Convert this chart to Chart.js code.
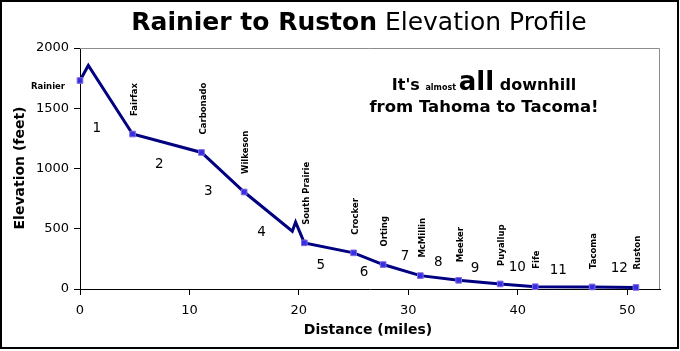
<!DOCTYPE html>
<html>
<head>
<meta charset="utf-8">
<script src="https://cdn.jsdelivr.net/npm/chart.js@4/dist/chart.umd.min.js"></script>
<style>
  html, body { margin: 0; padding: 0; background: #fff; }
  canvas { display: block; }
</style>
</head>
<body>
<canvas id="chart" width="680" height="351"></canvas>
<script>
// Elevation profile along the trail (distance in miles, elevation in feet)
const profileMiles = [0, 0.76, 4.8, 11.1, 15.0, 19.4, 19.7, 20.5, 25.0, 27.7, 31.1, 34.6, 38.4, 41.6, 46.8, 50.8];
const profileFeet  = [1730, 1855, 1286, 1133, 805, 480, 555, 383, 300, 203, 111, 72, 42, 19, 17, 13];

// Towns along the way
const towns     = ['Rainier', 'Fairfax', 'Carbonado', 'Wilkeson', 'South Prairie', 'Crocker', 'Orting', 'McMillin', 'Meeker', 'Puyallup', 'Fife', 'Tacoma', 'Ruston'];
const townMiles = [0, 4.8, 11.1, 15.0, 20.5, 25.0, 27.7, 31.1, 34.6, 38.4, 41.6, 46.8, 50.8];
const townFeet  = [1730, 1286, 1133, 805, 383, 300, 203, 111, 72, 42, 19, 17, 13];

// Segment numbers and where they sit (miles, feet)
const segments   = ['1', '2', '3', '4', '5', '6', '7', '8', '9', '10', '11', '12'];
const segMiles   = [1.53, 7.25, 11.72, 16.6, 22.0, 25.95, 29.7, 32.74, 36.1, 39.96, 43.7, 49.28];
const segFeet    = [1333, 1036, 805, 472, 197, 133, 267, 217, 169, 175, 153, 167];

const xTicks = [0, 10, 20, 30, 40, 50];
const yTicks = [0, 500, 1000, 1500, 2000];

const FONT = "'DejaVu Sans', Verdana, sans-serif";

// draws title, frame, labels and the note
const decorations = {
    id: 'decorations',
    afterDatasetsDraw(chart) {
        const ctx = chart.ctx;
        const xs = chart.scales.x, ys = chart.scales.y;
        const a = chart.chartArea;
        ctx.save();

        // plot area border (top/right grey)
        ctx.strokeStyle = '#8c8c8c';
        ctx.lineWidth = 1;
        ctx.beginPath();
        ctx.moveTo(a.left, a.top + 0.5);
        ctx.lineTo(a.right - 0.5, a.top + 0.5);
        ctx.lineTo(a.right - 0.5, a.bottom);
        ctx.stroke();

        // town labels
        ctx.fillStyle = '#000';
        ctx.font = 'bold 8.5px ' + FONT;
        towns.forEach((t, i) => {
            const px = xs.getPixelForValue(townMiles[i]);
            const py = ys.getPixelForValue(townFeet[i]);
            if (i === 0) {
                ctx.textAlign = 'right';
                ctx.textBaseline = 'middle';
                ctx.fillText(t, px - 15, py + 6);
                return;
            }
            ctx.save();
            ctx.translate(px + 2, py - 18);
            ctx.rotate(-Math.PI / 2);
            ctx.textAlign = 'left';
            ctx.textBaseline = 'middle';
            ctx.fillText(t, 0, 0);
            ctx.restore();
        });

        // segment numbers
        ctx.font = '13.5px ' + FONT;
        ctx.textAlign = 'center';
        ctx.textBaseline = 'middle';
        segments.forEach((s, i) => {
            ctx.fillText(s, xs.getPixelForValue(segMiles[i]), ys.getPixelForValue(segFeet[i]));
        });

        // title
        ctx.textBaseline = 'alphabetic';
        ctx.textAlign = 'left';
        const t1 = 'Rainier to Ruston', t2 = ' Elevation Profile';
        ctx.font = 'bold 25px ' + FONT;
        const w1 = ctx.measureText(t1).width;
        ctx.font = '25px ' + FONT;
        const w2 = ctx.measureText(t2).width;
        let tx = 359 - (w1 + w2) / 2;
        ctx.font = 'bold 25px ' + FONT;
        ctx.fillText(t1, tx, 30);
        ctx.font = '25px ' + FONT;
        ctx.fillText(t2, tx + w1, 30);

        // note
        const parts = [
            ['bold 16px ', "It's "],
            ['bold 8px ', 'almost '],
            ['bold 26px ', 'all'],
            ['bold 16px ', ' downhill']
        ];
        let total = 0;
        parts.forEach(p => { ctx.font = p[0] + FONT; total += ctx.measureText(p[1]).width; });
        let nx = 484 - total / 2;
        parts.forEach(p => {
            ctx.font = p[0] + FONT;
            ctx.fillText(p[1], nx, 90);
            nx += ctx.measureText(p[1]).width;
        });
        ctx.font = 'bold 16.5px ' + FONT;
        ctx.textAlign = 'center';
        ctx.fillText('from Tahoma to Tacoma!', 484, 112);

        // axis titles
        ctx.font = 'bold 14px ' + FONT;
        ctx.textBaseline = 'middle';
        ctx.fillText('Distance (miles)', 368, 330);
        ctx.save();
        ctx.translate(20, 168);
        ctx.rotate(-Math.PI / 2);
        ctx.fillText('Elevation (feet)', 0, 0);
        ctx.restore();

        // outer frame
        ctx.strokeStyle = '#000';
        ctx.lineWidth = 2;
        ctx.strokeRect(1, 1, 677, 347);
        ctx.restore();
    }
};

new Chart(document.getElementById('chart'), {
    type: 'scatter',
    data: {
        datasets: [{
            label: 'Profile',
            data: profileMiles.map((m, i) => ({ x: m, y: profileFeet[i] })),
            showLine: true,
            borderColor: '#000080',
            borderWidth: 3,
            pointRadius: 0,
            tension: 0,
            clip: false,
            order: 2
        }, {
            label: 'Towns',
            data: townMiles.map((m, i) => ({ x: m, y: townFeet[i] })),
            showLine: false,
            pointStyle: 'rect',
            pointRadius: 4,
            backgroundColor: '#3030e8',
            borderColor: '#8a6ad8',
            borderWidth: 1,
            clip: false,
            order: 1
        }]
    },
    options: {
        responsive: false,
        animation: false,
        layout: { padding: { top: 48, right: 20, bottom: 22, left: 0 } },
        plugins: {
            legend: { display: false },
            tooltip: { enabled: false },
            title: { display: false }
        },
        scales: {
            x: {
                type: 'linear',
                min: 0,
                max: 53,
                afterBuildTicks: s => { s.ticks = xTicks.map(v => ({ value: v })); },
                afterFit: s => { s.height = 40; },
                grid: { display: true, drawOnChartArea: false, drawTicks: true, tickLength: 6, color: '#000' },
                border: { display: true, color: '#000', width: 1 },
                ticks: { color: '#000', padding: 8, maxRotation: 0, callback: v => String(v), font: { family: FONT, size: 13 } }
            },
            y: {
                type: 'linear',
                min: 0,
                max: 2000,
                afterBuildTicks: s => { s.ticks = yTicks.map(v => ({ value: v })); },
                afterFit: s => { s.width = 80; },
                grid: { display: true, drawOnChartArea: false, drawTicks: true, tickLength: 6, color: '#000' },
                border: { display: true, color: '#000', width: 1 },
                ticks: { color: '#000', padding: 5, callback: v => String(v), font: { family: FONT, size: 13 } }
            }
        }
    },
    plugins: [decorations]
});
</script>
</body>
</html>
